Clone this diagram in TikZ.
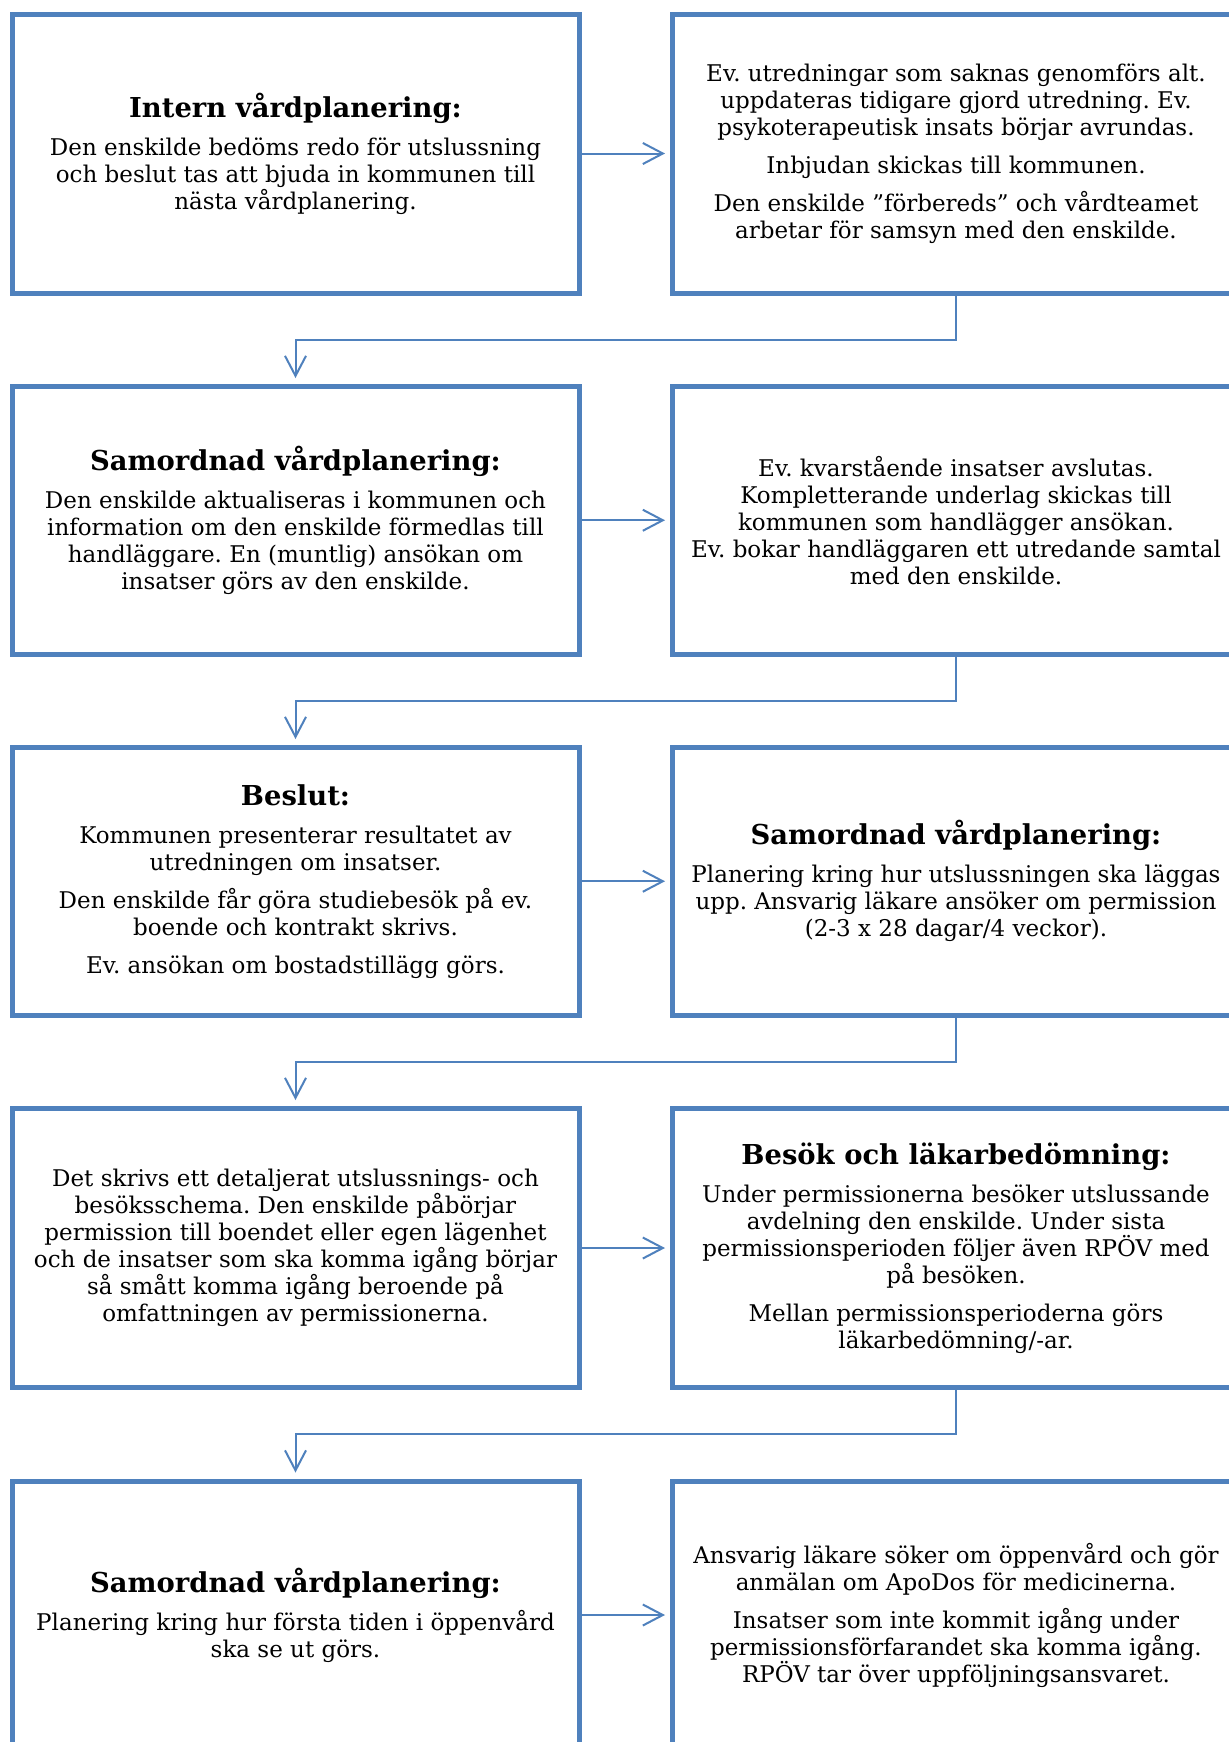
\documentclass[tikz,border=0pt]{standalone}
\usepackage{fontspec}
\setmainfont{DejaVu Serif}
\usetikzlibrary{arrows.meta,calc}
\definecolor{bbl}{HTML}{4F81BD}
\newcommand{\ttl}[1]{{\fontsize{13.7}{16}\selectfont\bfseries #1}}
\newcommand{\pg}{\\[5.5pt]}
\frenchspacing
\begin{document}
\frenchspacing
\begin{tikzpicture}[x=0.5pt,y=-0.5pt,
  box/.style={draw=bbl, line width=2.5pt, minimum width=283.5pt, minimum height=#1,
    align=center, inner sep=0pt, font=\fontsize{11.5}{13.5}\selectfont\frenchspacing},
  flow/.style={draw=bbl, line width=1pt, -{Straight Barb[length=10pt,width=10.5pt]}},
]
\useasboundingbox (0,0) rectangle (1229,1742);
\clip (0,0) rectangle (1229,1742);
\fill[white] (0,0) rectangle (1229,1742);

% Row 1
\node[box=139.5pt] (l1) at (295.5,153.5) {\ttl{Intern vårdplanering:}\pg
Den enskilde bedöms redo för utslussning\\
och beslut tas att bjuda in kommunen till\\
nästa vårdplanering.};
\node[box=139.5pt] (r1) at (956,153.5) {Ev. utredningar som saknas genomförs alt.\\
uppdateras tidigare gjord utredning. Ev.\\
psykoterapeutisk insats börjar avrundas.\pg
Inbjudan skickas till kommunen.\pg
Den enskilde ”förbereds” och vårdteamet\\
arbetar för samsyn med den enskilde.};

% Row 2
\node[box=133.75pt] (l2) at (295.5,520.25) {\ttl{Samordnad vårdplanering:}\pg
Den enskilde aktualiseras i kommunen och\\
information om den enskilde förmedlas till\\
handläggare. En (muntlig) ansökan om\\
insatser görs av den enskilde.};
\node[box=133.75pt] (r2) at (956,520.25) {Ev. kvarstående insatser avslutas.\\
Kompletterande underlag skickas till\\
kommunen som handlägger ansökan.\\
Ev. bokar handläggaren ett utredande samtal\\
med den enskilde.};

% Row 3
\node[box=133.75pt] (l3) at (295.5,881.25) {\ttl{Beslut:}\pg
Kommunen presenterar resultatet av\\
utredningen om insatser.\pg
Den enskilde får göra studiebesök på ev.\\
boende och kontrakt skrivs.\pg
Ev. ansökan om bostadstillägg görs.};
\node[box=133.75pt] (r3) at (956,881.25) {\ttl{Samordnad vårdplanering:}\pg
Planering kring hur utslussningen ska läggas\\
upp. Ansvarig läkare ansöker om permission\\
(2-3 x 28 dagar/4 veckor).};

% Row 4
\node[box=139.5pt] (l4) at (295.5,1248) {Det skrivs ett detaljerat utslussnings- och\\
besöksschema. Den enskilde påbörjar\\
permission till boendet eller egen lägenhet\\
och de insatser som ska komma igång börjar\\
så smått komma igång beroende på\\
omfattningen av permissionerna.};
\node[box=139.5pt] (r4) at (956,1248) {\ttl{Besök och läkarbedömning:}\pg
Under permissionerna besöker utslussande\\
avdelning den enskilde. Under sista\\
permissionsperioden följer även RPÖV med\\
på besöken.\pg
Mellan permissionsperioderna görs\\
läkarbedömning/-ar.};

% Row 5
\node[box=134pt] (l5) at (295.5,1615) {\ttl{Samordnad vårdplanering:}\pg
Planering kring hur första tiden i öppenvård\\
ska se ut görs.};
\node[box=134pt] (r5) at (956,1615) {Ansvarig läkare söker om öppenvård och gör\\
anmälan om ApoDos för medicinerna.\pg
Insatser som inte kommit igång under\\
permissionsförfarandet ska komma igång.\\
RPÖV tar över uppföljningsansvaret.};

% horizontal arrows
\foreach \i in {1,...,5}{
  \draw[flow, shorten >=2.5pt] (l\i.east) -- (r\i.west);
}
% connectors between rows
\foreach \i/\j in {1/2,2/3,3/4,4/5}{
  \coordinate (m\i) at ($(r\i.south)!0.5!(l\j.north)$);
  \draw[flow, shorten >=3pt] (r\i.south) -- (r\i.south |- m\i) -| (l\j.north);
}
\end{tikzpicture}
\end{document}
